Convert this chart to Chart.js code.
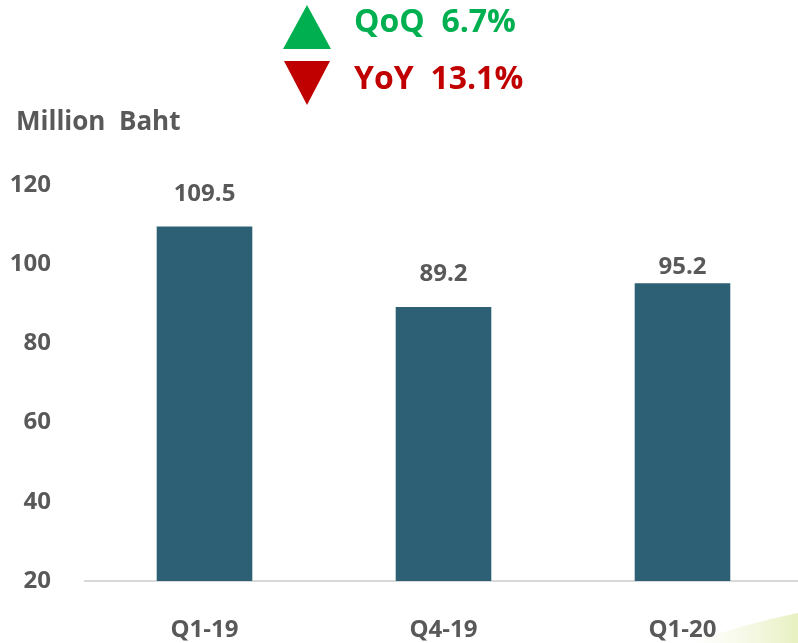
<!DOCTYPE html>
<html>
<head>
<meta charset="utf-8">
<script src="https://cdn.jsdelivr.net/npm/chart.js@4"></script>
<style>
  body { margin: 0; background: #fff; }
  #wrap { position: relative; width: 798px; height: 643px; overflow: hidden; }
</style>
</head>
<body>
<div id="wrap"><canvas id="revchart" width="802" height="643"></canvas></div>
<script>
// chart data
const quarters = ["Q1-19", "Q4-19", "Q1-20"]
const revenue = [109.5, 89.2, 95.2]
const yTicks = [20, 40, 60, 80, 100, 120]
const unitLabel = "Million  Baht"
const qoqText = "QoQ  6.7%"
const yoyText = "YoY  13.1%"

const grey = "#595959"
const fontName = "'Open Sans', 'DejaVu Sans', sans-serif"
// how far each value label sits above its bar
const labelGap = [32, 33, 16]

// draws the value on top of each bar
const valueLabels = {
  id: "valueLabels",
  afterDatasetsDraw(chart) {
    let ctx = chart.ctx
    let meta = chart.getDatasetMeta(0)
    ctx.save()
    ctx.font = "bold 24px " + fontName
    ctx.fillStyle = grey
    ctx.textAlign = "center"
    ctx.textBaseline = "middle"
    meta.data.forEach((bar, i) => {
      ctx.fillText(revenue[i].toFixed(1), bar.x, bar.y - labelGap[i])
    })
    ctx.restore()
  }
}

// header: arrows with QoQ / YoY, the unit label and the faint swoosh bottom right
const header = {
  id: "header",
  beforeDraw(chart) {
    let ctx = chart.ctx
    ctx.save()
    let g = ctx.createLinearGradient(690, 0, 798, 0)
    g.addColorStop(0, "rgba(235,240,200,0)")
    g.addColorStop(1, "rgba(215,230,150,0.6)")
    ctx.fillStyle = g
    ctx.beginPath()
    ctx.moveTo(690, 643)
    ctx.quadraticCurveTo(740, 625, 802, 612)
    ctx.lineTo(802, 643)
    ctx.closePath()
    ctx.fill()
    ctx.restore()
  },
  afterDraw(chart) {
    let ctx = chart.ctx
    ctx.save()
    // green up triangle
    ctx.fillStyle = "#00b050"
    ctx.beginPath()
    ctx.moveTo(307, 5)
    ctx.lineTo(331, 49)
    ctx.lineTo(283, 49)
    ctx.closePath()
    ctx.fill()
    // red down triangle
    ctx.fillStyle = "#c00000"
    ctx.beginPath()
    ctx.moveTo(284, 61)
    ctx.lineTo(330, 61)
    ctx.lineTo(307, 105)
    ctx.closePath()
    ctx.fill()

    ctx.font = "bold 32px " + fontName
    ctx.textBaseline = "middle"
    ctx.textAlign = "left"
    ctx.fillStyle = "#00b050"
    ctx.fillText(qoqText, 354, 23)
    ctx.fillStyle = "#c00000"
    ctx.fillText(yoyText, 354, 80)

    ctx.font = "bold 26px " + fontName
    ctx.fillStyle = grey
    ctx.fillText(unitLabel, 16, 123)
    ctx.restore()
  }
}

new Chart(document.getElementById("revchart"), {
  type: "bar",
  data: {
    labels: quarters,
    datasets: [{
      data: revenue,
      backgroundColor: "#2d5f75",
      categoryPercentage: 0.4,
      barPercentage: 1.0
    }]
  },
  options: {
    responsive: false,
    animation: false,
    layout: { padding: { top: 185, right: 0, left: 0, bottom: 0 } },
    plugins: { legend: { display: false }, tooltip: { enabled: false } },
    scales: {
      x: {
        grid: { display: false },
        border: { display: true, color: "#d9d9d9", width: 2 },
        ticks: { color: grey, font: { family: fontName, size: 24, weight: "bold" }, padding: 27 },
        afterFit(scale) { scale.height = 62 }
      },
      y: {
        min: 20,
        max: 120,
        afterBuildTicks(scale) { scale.ticks = yTicks.map(v => ({ value: v })) },
        grid: { display: false, drawTicks: false },
        border: { display: false },
        ticks: { color: grey, font: { family: fontName, size: 24, weight: "bold" }, padding: 34 },
        afterFit(scale) { scale.width = 85 }
      }
    }
  },
  plugins: [valueLabels, header]
})
</script>
</body>
</html>
